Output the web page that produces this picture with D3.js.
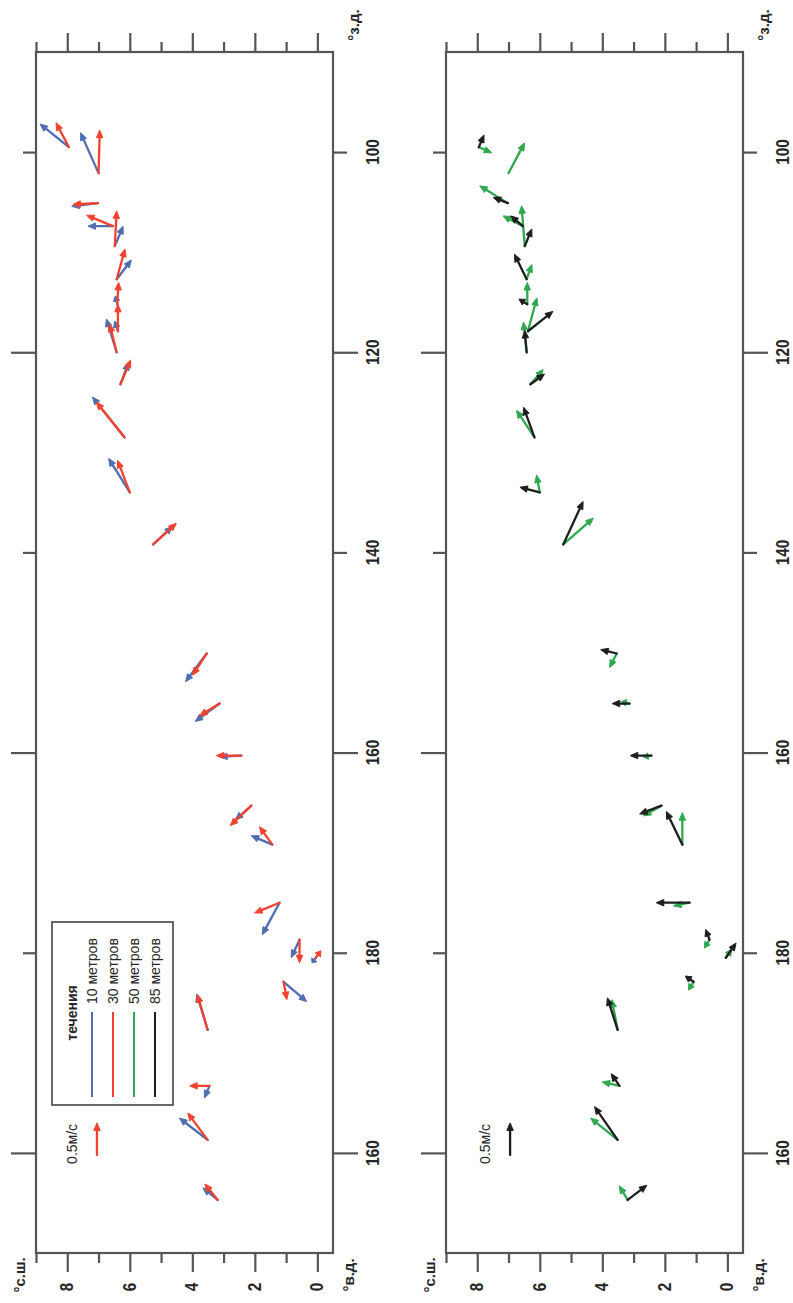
<!DOCTYPE html>
<html>
<head>
<meta charset="utf-8">
<script src="https://cdn.jsdelivr.net/npm/d3@7"></script>
<style>
  html, body { margin: 0; padding: 0; background: #fff; }
  svg { display: block; font-family: "Liberation Sans", Arial, sans-serif; }
</style>
</head>
<body>
<svg id="chart" width="793" height="1303"></svg>
<script>
// Station positions (longitude in 0..360 east, latitude in °N)
const stationLon = [99.5, 102.1, 105.1, 107.4, 109.4, 112.7, 115.2, 117.9, 120.0, 123.2, 128.5, 134.0, 139.2,
                    150.1, 155.1, 160.3, 165.3, 169.2, 175.0, 178.7, 180.5, 182.9, 187.7, 193.3, 198.7, 204.7];
const stationLat = [7.95, 7.0, 7.02, 6.54, 6.48, 6.42, 6.4, 6.38, 6.42, 6.3, 6.17, 6.0, 5.25,
                    3.54, 3.13, 2.43, 2.11, 1.44, 1.21, 0.57, 0.05, 1.08, 3.51, 3.45, 3.51, 3.19];

// Current components, m/s (u — eastward, v — northward) at each depth
const u10 = [0.36, 0.63, -0.05, 0.00, 0.31, 0.30, 0.13, 0.16, 0.52, 0.34, 0.63, 0.53, 0.28,
             -0.44, -0.28, -0.02, -0.22, 0.14, -0.50, -0.28, -0.08, -0.31, 0.56, -0.19, 0.34, 0.19];
const v10 = [0.45, 0.28, 0.41, 0.39, -0.13, -0.23, 0.03, 0.05, 0.16, -0.13, 0.50, 0.33, -0.30,
             0.33, 0.38, 0.34, 0.25, 0.33, 0.27, 0.13, 0.06, -0.36, 0.17, 0.08, 0.44, 0.23];
const u30 = [0.38, 0.67, -0.02, 0.17, 0.55, 0.47, 0.34, 0.42, 0.44, 0.38, 0.55, 0.50, 0.33,
             -0.34, -0.19, 0.00, -0.31, 0.28, -0.16, -0.36, 0.11, -0.28, 0.55, 0.00, 0.42, 0.25];
const v30 = [0.20, -0.02, 0.39, 0.41, -0.03, -0.13, -0.02, 0.00, 0.11, -0.16, 0.44, 0.19, -0.36,
             0.22, 0.31, 0.39, 0.33, 0.20, 0.39, 0.00, -0.08, -0.05, 0.16, 0.31, 0.31, 0.20];
const u50 = [-0.09, 0.47, 0.27, 0.16, 0.63, 0.23, 0.34, 0.52, 0.47, 0.23, 0.42, 0.27, 0.41,
             -0.22, 0.03, -0.02, -0.16, 0.50, -0.05, -0.13, 0.13, -0.13, 0.47, 0.06, 0.34, 0.22];
const v50 = [-0.20, -0.25, 0.44, 0.31, 0.05, -0.08, 0.00, -0.14, 0.05, -0.20, 0.28, 0.05, -0.47,
             0.11, 0.13, 0.13, 0.28, 0.00, 0.25, 0.08, -0.09, 0.08, 0.09, 0.27, 0.42, 0.13];
const u85 = [0.19, null, 0.09, 0.16, 0.27, 0.39, 0.08, 0.31, 0.34, 0.16, 0.47, 0.08, 0.67,
             0.06, 0.00, 0.00, -0.13, 0.52, 0.00, 0.16, 0.23, 0.09, 0.50, 0.19, 0.52, 0.23];
const v85 = [-0.08, null, 0.23, 0.19, -0.11, 0.19, 0.13, -0.39, 0.03, -0.22, 0.17, 0.31, -0.31,
             0.25, 0.27, 0.33, 0.34, 0.25, 0.52, 0.06, -0.16, 0.13, 0.16, 0.13, 0.36, -0.30];

const depthLabels = ["10 метров", "30 метров", "50 метров", "85 метров"];
const depthColors = ["#4f6db2", "#f2422f", "#2fa84f", "#1e1e1e"];
const legendTitle = "течения";
const refSpeed = 0.5;
const refLabel = "0.5м/с";

const lonTicksMajor = [120, 160, 200];
const lonTicksMinor = [100, 140, 180];
const latTicksMajor = [0, 2, 4, 6, 8];
const latTicksMinor = [1, 3, 5, 7, 9];
const lonTickLabel = d => String(d <= 180 ? d : 360 - d);

const svg = d3.select("#chart");
const axisColor = "#555";
const textColor = "#262626";

const lonScale = d3.scaleLinear().domain([90, 210]).range([52, 1253]);
const speedScale = d3.scaleLinear().domain([0, 1]).range([0, 64]);

const depthSeries = [
  { u: u10, v: v10, color: depthColors[0] },
  { u: u30, v: v30, color: depthColors[1] },
  { u: u50, v: v50, color: depthColors[2] },
  { u: u85, v: v85, color: depthColors[3] }
];

const panels = [
  { left: 36, series: [0, 1], legend: true, refColor: depthColors[1] },
  { left: 446, series: [2, 3], legend: false, refColor: depthColors[3] }
];

// Arrow path: shaft from tail to the base of the head, plus a filled head
function arrowShape(x0, y0, x1, y1) {
  const dx = x1 - x0, dy = y1 - y0;
  const len = Math.hypot(dx, dy);
  if (len < 0.5) return { shaft: "", head: "" };
  const ux = dx / len, uy = dy / len;
  const hl = Math.min(7.5, len * 0.6), hw = 3.2;
  const bx = x1 - ux * hl, by = y1 - uy * hl;
  const shaft = `M${x0},${y0}L${bx},${by}`;
  const head = `M${x1},${y1}L${bx - uy * hw},${by + ux * hw}L${bx + uy * hw},${by - ux * hw}Z`;
  return { shaft, head };
}

function drawArrow(g, x0, y0, x1, y1, color) {
  const s = arrowShape(x0, y0, x1, y1);
  g.append("path").attr("d", s.shaft).attr("stroke", color).attr("stroke-width", 2.3)
    .attr("fill", "none").attr("stroke-linecap", "round");
  g.append("path").attr("d", s.head).attr("fill", color).attr("stroke", color)
    .attr("stroke-width", 1).attr("stroke-linejoin", "round");
}

function rotatedText(g, x, y, text, opts = {}) {
  const size = opts.size || 15;
  const sx = opts.sx || 1;
  return g.append("text")
    .attr("transform", `translate(${x},${y}) rotate(-90) scale(${sx},1)`)
    .attr("text-anchor", opts.anchor || "middle")
    .attr("dominant-baseline", "central")
    .attr("font-size", size)
    .attr("font-weight", opts.weight || "normal")
    .attr("fill", textColor)
    .text(text);
}

panels.forEach(p => {
  const latScale = d3.scaleLinear().domain([9, -0.5]).range([p.left, p.left + 297]);
  const [x0, x1] = latScale.range();
  const [y0, y1] = lonScale.range();
  const g = svg.append("g");

  // Ticks via d3 axes (labels drawn separately, rotated)
  const styleAxis = sel => {
    sel.select(".domain").remove();
    sel.selectAll("line").attr("stroke", axisColor).attr("stroke-width", 2.2);
    sel.selectAll("text").remove();
  };
  g.append("g").attr("transform", `translate(0,${y0})`)
    .call(d3.axisTop(latScale).tickValues(latTicksMajor).tickSize(19)).call(styleAxis);
  g.append("g").attr("transform", `translate(0,${y0})`)
    .call(d3.axisTop(latScale).tickValues(latTicksMinor).tickSize(10)).call(styleAxis);
  g.append("g").attr("transform", `translate(0,${y1})`)
    .call(d3.axisBottom(latScale).tickValues(latTicksMajor).tickSize(19)).call(styleAxis);
  g.append("g").attr("transform", `translate(0,${y1})`)
    .call(d3.axisBottom(latScale).tickValues(latTicksMinor).tickSize(10)).call(styleAxis);
  g.append("g").attr("transform", `translate(${x0},0)`)
    .call(d3.axisLeft(lonScale).tickValues(lonTicksMajor).tickSize(25)).call(styleAxis);
  g.append("g").attr("transform", `translate(${x0},0)`)
    .call(d3.axisLeft(lonScale).tickValues(lonTicksMinor).tickSize(13)).call(styleAxis);
  g.append("g").attr("transform", `translate(${x1},0)`)
    .call(d3.axisRight(lonScale).tickValues(lonTicksMajor).tickSize(25)).call(styleAxis);
  g.append("g").attr("transform", `translate(${x1},0)`)
    .call(d3.axisRight(lonScale).tickValues(lonTicksMinor).tickSize(14)).call(styleAxis);

  // Frame
  g.append("rect").attr("x", x0).attr("y", y0).attr("width", x1 - x0).attr("height", y1 - y0)
    .attr("fill", "none").attr("stroke", axisColor).attr("stroke-width", 2.2);

  // Tick labels
  latTicksMajor.forEach(d => rotatedText(g, latScale(d), y1 + 34, String(d), { size: 18, sx: 0.85, weight: "bold" }));
  lonTicksMinor.concat(lonTicksMajor).forEach(d =>
    rotatedText(g, x1 + 40, lonScale(d), lonTickLabel(d), { size: 18, sx: 0.85, weight: "bold" }));

  // Corner labels
  rotatedText(g, x0 - 17, y1 + 22, "°с.ш.", { size: 15, weight: "bold" });
  rotatedText(g, x1 + 15, y1 + 22, "°в.д.", { size: 15, weight: "bold" });
  rotatedText(g, x1 + 20, y0 - 27, "°з.д.", { size: 15, weight: "bold" });

  // Current vectors
  const ag = g.append("g");
  p.series.forEach(si => {
    const s = depthSeries[si];
    stationLon.forEach((lon, i) => {
      const u = s.u[i], v = s.v[i];
      if (u == null || v == null) return;
      const tx = latScale(stationLat[i]), ty = lonScale(lon);
      drawArrow(ag, tx, ty, tx - speedScale(v), ty - speedScale(u), s.color);
    });
  });

  // Reference vector
  const rx = latScale(p.legend ? 7.05 : 6.95), ry = lonScale(200.2);
  drawArrow(g, rx, ry, rx, ry - speedScale(refSpeed), p.refColor);
  rotatedText(g, latScale(p.legend ? 7.85 : 7.75), lonScale(199.1), refLabel, { size: 14 });

  // Legend
  if (p.legend) {
    const lg = g.append("g");
    lg.append("rect").attr("x", 52).attr("y", 922).attr("width", 121).attr("height", 183)
      .attr("fill", "#fff").attr("stroke", "#444").attr("stroke-width", 1.6);
    rotatedText(lg, 72, 1013, legendTitle, { size: 14, weight: "bold" });
    depthLabels.forEach((lab, i) => {
      const lx = 92 + i * 21;
      lg.append("line").attr("x1", lx).attr("x2", lx).attr("y1", 1097).attr("y2", 1012)
        .attr("stroke", depthColors[i]).attr("stroke-width", 2);
      rotatedText(lg, lx, 1004, lab, { size: 14, anchor: "start" });
    });
  }
});
</script>
</body>
</html>
